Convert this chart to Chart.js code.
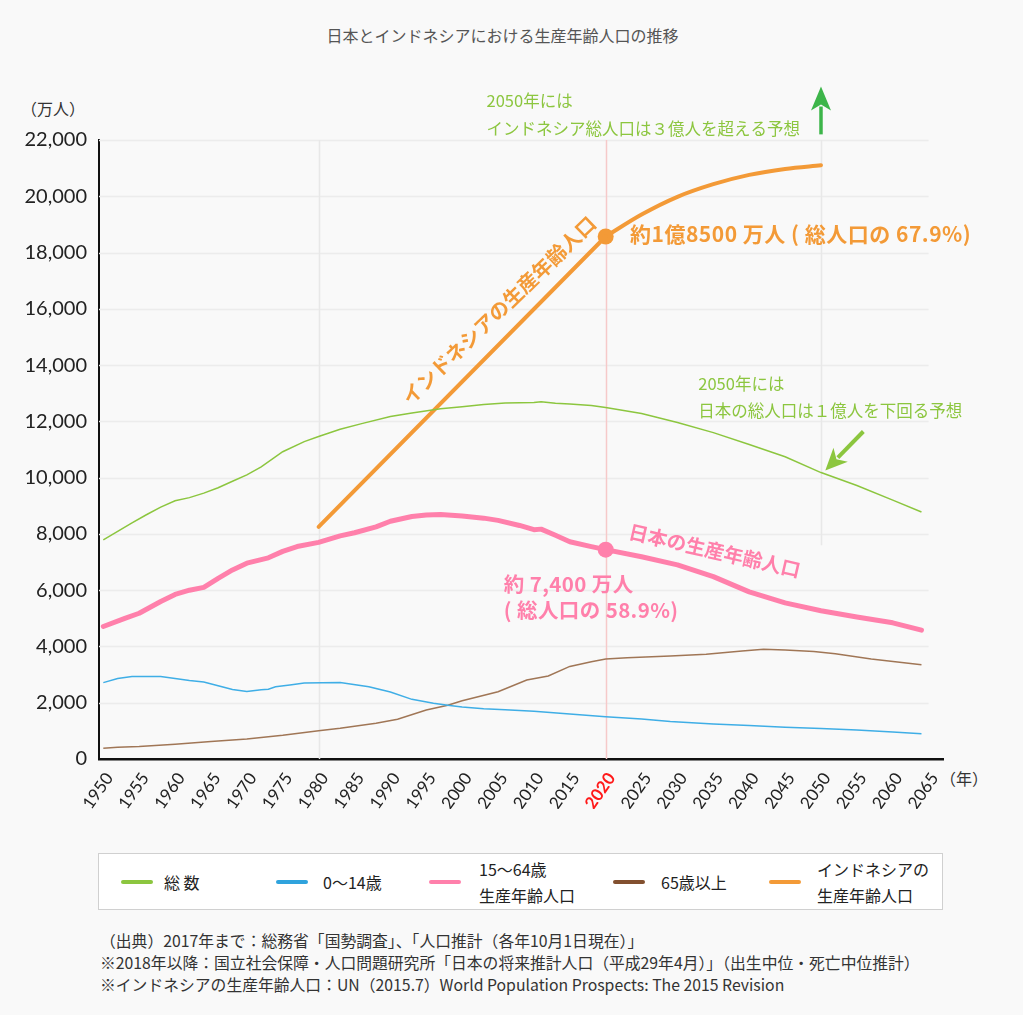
<!DOCTYPE html>
<html><head><meta charset="utf-8">
<script src="https://cdn.jsdelivr.net/npm/chart.js@4.4.1/dist/chart.umd.min.js"></script>
<style>
html,body{margin:0;padding:0;background:#f9f9f9;width:1023px;height:1015px;overflow:hidden;font-family:"Noto Sans CJK JP",sans-serif;}
#wrap{position:absolute;left:0;top:0;width:1023px;height:830px;}
#title{position:absolute;left:0;width:1005px;top:23px;text-align:center;font-size:16px;color:#555;line-height:24px}
#yunit{position:absolute;left:21px;top:96px;font-size:16px;color:#333;line-height:24px}
#xunit{position:absolute;left:940px;top:766px;font-size:16px;color:#333;line-height:24px}
#legend{position:absolute;left:98px;top:853px;width:843px;height:55px;background:#fff;border:1px solid #d0d0d0;}
.sw{position:absolute;top:26px;width:32px;height:4px;border-radius:2px}
.lt{position:absolute;font-size:16px;color:#222;line-height:26px;white-space:nowrap}
#notes{position:absolute;left:100px;top:930px;font-size:15.8px;color:#333;line-height:22px;white-space:nowrap}
</style></head>
<body>
<div id="title">日本とインドネシアにおける生産年齢人口の推移</div>
<div id="yunit">（万人）</div>
<div id="xunit">（年）</div>
<div id="wrap"><canvas id="c"></canvas></div>
<div id="legend"></div>
<div id="notes">
<div>（出典）2017年まで：総務省「国勢調査」、「人口推計（各年10月1日現在）」</div>
<div>※2018年以降：国立社会保障・人口問題研究所「日本の将来推計人口（平成29年4月）」（出生中位・死亡中位推計）</div>
<div>※インドネシアの生産年齢人口：UN（2015.7）World Population Prospects: The 2015 Revision</div>
</div>
<script>
// ---- data ----
const tickYears = [1950,1955,1960,1965,1970,1975,1980,1985,1990,1995,2000,2005,2010,2015,2020,2025,2030,2035,2040,2045,2050,2055,2060,2065];
const yTicks = [0,2000,4000,6000,8000,10000,12000,14000,16000,18000,20000,22000];

const totalYears  = [1950,1952,1954,1956,1958,1960,1962,1964,1966,1968,1970,1972,1975,1978,1980,1983,1986,1990,1993,1997,2000,2003,2006,2008,2010,2011,2013,2015,2018,2020,2025,2030,2035,2040,2045,2050,2055,2060,2064];
const totalValues = [7790,8090,8390,8680,8950,9180,9290,9450,9640,9870,10100,10380,10920,11280,11460,11720,11920,12170,12300,12450,12520,12600,12650,12660,12670,12700,12640,12620,12560,12490,12280,11960,11600,11180,10740,10180,9720,9200,8780];

const childYears  = [1950,1952,1954,1958,1960,1962,1964,1966,1968,1970,1972,1973,1974,1976,1978,1983,1987,1990,1993,1996,1998,2000,2003,2006,2010,2015,2020,2025,2029,2035,2040,2045,2050,2055,2060,2064];
const childValues = [2715,2860,2930,2930,2860,2790,2740,2600,2470,2400,2460,2480,2570,2630,2700,2715,2570,2380,2120,1980,1910,1850,1790,1750,1700,1600,1505,1420,1330,1240,1190,1130,1080,1030,960,900];

const workYears  = [1950,1953,1955,1958,1960,1962,1964,1966,1968,1970,1973,1975,1977,1980,1983,1985,1988,1990,1993,1995,1997,2000,2003,2005,2008,2010,2011,2013,2015,2018,2020,2025,2030,2035,2040,2045,2050,2055,2060,2064];
const workValues = [4710,5000,5180,5600,5850,6000,6100,6420,6720,6960,7150,7380,7550,7700,7930,8040,8250,8450,8620,8670,8690,8640,8560,8480,8300,8150,8170,7950,7720,7550,7440,7190,6900,6480,5940,5550,5270,5050,4840,4580];

const elderYears  = [1950,1952,1955,1960,1965,1970,1975,1980,1983,1988,1991,1995,1998,2000,2005,2009,2012,2015,2018,2020,2023,2029,2034,2039,2042,2045,2049,2052,2057,2064];
const elderValues = [380,420,440,520,620,710,840,1000,1090,1270,1410,1740,1910,2070,2390,2810,2950,3290,3460,3550,3600,3660,3720,3840,3900,3870,3820,3740,3550,3350];

const indoYears  = [1980,2020,2025,2030,2035,2040,2045,2050];
const indoValues = [8250,18570,19350,19980,20430,20760,20970,21100];

const highlightYear = 2020;

// ---- chart ----
const pts = (xs, ys) => xs.map((x, i) => ({x, y: ys[i]}));
const C = {green:'#8cc63f', blue:'#3faee6', pink:'#ff80ab', brown:'#8b5a36', orange:'#f39a37'};
const CJK = '"Noto Sans CJK JP", sans-serif';
const indoPts = pts(indoYears, indoValues);

const legendItems = [
  {c:C.green, line:22, text:'総 数', tx:65},
  {c:'#2fa3dd', line:177, text:'0〜14歳', tx:224},
  {c:C.pink, line:330, text:'15〜64歳<br>生産年齢人口', tx:380},
  {c:'#82502f', line:514, text:'65歳以上', tx:562},
  {c:C.orange, line:670, text:'インドネシアの<br>生産年齢人口', tx:718}
];
const lg = document.getElementById('legend');
legendItems.forEach(it => {
  const s = document.createElement('div'); s.className='sw'; s.style.left=it.line+'px'; s.style.background=it.c; lg.appendChild(s);
  const t = document.createElement('div'); t.className='lt'; t.style.left=it.tx+'px'; t.innerHTML=it.text;
  t.style.top = it.text.includes('<br>') ? '2px' : '15px';
  lg.appendChild(t);
});

const gridPlugin = {
  id:'grid',
  beforeDatasetsDraw(chart){
    const {ctx, chartArea:a, scales:{x, y}} = chart;
    ctx.save();
    ctx.lineWidth = 1.5;
    ctx.strokeStyle = '#ececec';
    yTicks.slice(1).forEach(v => {
      const py = Math.round(y.getPixelForValue(v)) + 0.5;
      ctx.beginPath(); ctx.moveTo(a.left, py); ctx.lineTo(x.getPixelForValue(2065), py); ctx.stroke();
    });
    const vline = (yr, col, toVal) => {
      const px = Math.round(x.getPixelForValue(yr)) + 0.5;
      ctx.strokeStyle = col; ctx.beginPath(); ctx.moveTo(px, a.top);
      ctx.lineTo(px, toVal == null ? a.bottom : y.getPixelForValue(toVal)); ctx.stroke();
    };
    vline(1980, '#e8e8e8');
    vline(2050, '#e8e8e8', 7600);
    vline(2020, '#f6c9c9');
    ctx.restore();
  }
};

function arrow(ctx, x1, y1, x2, y2, col, w, hl, hw){
  const ang = Math.atan2(y2 - y1, x2 - x1);
  const bx = x2 - hl*Math.cos(ang), by = y2 - hl*Math.sin(ang);
  ctx.strokeStyle = col; ctx.fillStyle = col; ctx.lineWidth = w;
  ctx.beginPath(); ctx.moveTo(x1, y1); ctx.lineTo(bx + 4*Math.cos(ang), by + 4*Math.sin(ang)); ctx.stroke();
  ctx.beginPath(); ctx.moveTo(x2, y2);
  ctx.lineTo(bx + hw*Math.sin(ang), by - hw*Math.cos(ang));
  ctx.lineTo(x2 - (hl-6)*Math.cos(ang), y2 - (hl-6)*Math.sin(ang));
  ctx.lineTo(bx - hw*Math.sin(ang), by + hw*Math.cos(ang));
  ctx.closePath(); ctx.fill();
}

const annoPlugin = {
  id:'anno',
  afterDatasetsDraw(chart){
    const {ctx, scales:{x, y}} = chart;
    const X = v => x.getPixelForValue(v), Y = v => y.getPixelForValue(v);
    ctx.save();
    ctx.textBaseline = 'middle';
    // green notes
    ctx.fillStyle = C.green; ctx.font = '16.5px ' + CJK; ctx.textAlign = 'left';
    ctx.fillText('2050年には', X(2003.4), Y(23400));
    ctx.fillText('インドネシア総人口は３億人を超える予想', X(2003.4), Y(22400));
    ctx.fillText('2050年には', X(2032.9), Y(13340));
    ctx.fillText('日本の総人口は１億人を下回る予想', X(2032.9), Y(12390));
    arrow(ctx, X(2050), Y(22200), X(2050), Y(23900), '#3db54a', 3.5, 24, 10);
    arrow(ctx, X(2055.9), Y(11640), X(2050.6), Y(10250), C.green, 4, 22, 10);
    // orange labels
    ctx.fillStyle = C.orange; ctx.font = 'bold 21px ' + CJK;
    ctx.letterSpacing = '0.5px';
    ctx.fillText('約1億8500 万人 ( 総人口の 67.9%)', X(2023.4), Y(18650));
    ctx.letterSpacing = '0px';
    ctx.save();
    ctx.translate(X(2005.1), Y(15950)); ctx.rotate(-44 * Math.PI/180);
    ctx.textAlign = 'center'; ctx.font = 'bold 20px ' + CJK;
    ctx.fillText('インドネシアの生産年齢人口', 0, 0);
    ctx.restore();
    // pink labels
    ctx.fillStyle = C.pink; ctx.font = 'bold 20.5px ' + CJK;
    ctx.letterSpacing = '0.4px';
    ctx.fillText('約 7,400 万人', X(2005.8), Y(6210));
    ctx.fillText('( 総人口の 58.9%)', X(2005.8), Y(5290));
    ctx.letterSpacing = '0px';
    ctx.font = 'bold 19.5px ' + CJK;
    ctx.save();
    ctx.translate(X(2035.2), Y(7400)); ctx.rotate(13 * Math.PI/180);
    ctx.textAlign = 'center';
    ctx.fillText('日本の生産年齢人口', 0, 0);
    ctx.restore();
    ctx.restore();
  }
};

const dotR = ctx => (ctx.raw && ctx.raw.x === highlightYear) ? 8 : 0;

new Chart(document.getElementById('c'), {
  type:'line',
  data:{
    datasets:[
      {label:'総数', data:pts(totalYears,totalValues), borderColor:C.green, borderWidth:1.5, pointRadius:0},
      {label:'0〜14歳', data:pts(childYears,childValues), borderColor:C.blue, borderWidth:1.5, pointRadius:0},
      {label:'65歳以上', data:pts(elderYears,elderValues), borderColor:'#a07656', borderWidth:1.5, pointRadius:0},
      {label:'15〜64歳 生産年齢人口', data:pts(workYears,workValues), borderColor:C.pink, backgroundColor:C.pink, borderWidth:5, pointRadius:dotR, pointBorderWidth:0, borderJoinStyle:'round', borderCapStyle:'round'},
      // Indonesia series: measured part (straight) and projection (smooth curve), same arrays
      {label:'インドネシアの生産年齢人口', data:indoPts.filter(p => p.x <= highlightYear), borderColor:C.orange, borderWidth:4, pointRadius:0, tension:0, borderCapStyle:'round'},
      {label:'インドネシアの生産年齢人口（推計）', data:indoPts.filter(p => p.x >= highlightYear), borderColor:C.orange, backgroundColor:C.orange, borderWidth:4, pointRadius:dotR, pointBorderWidth:0, cubicInterpolationMode:'monotone', borderCapStyle:'round'}
    ]
  },
  options:{
    responsive:true, maintainAspectRatio:false, animation:false,
    layout:{padding:{left:0, right:80, top:140, bottom:21}},
    plugins:{legend:{display:false}, tooltip:{enabled:false}},
    scales:{
      x:{type:'linear', min:1949.4, max:2067,
        afterBuildTicks: s => { s.ticks = tickYears.map(v => ({value:v})); },
        afterFit: s => { s.height = 50; },
        grid:{display:false, drawTicks:false},
        border:{display:true, color:'#111', width:2.5},
        ticks:{autoSkip:false, maxRotation:55, minRotation:55, padding:10, labelOffset:6,
          color: c => c.tick && c.tick.value === highlightYear ? '#ff1a1a' : '#222',
          font: c => ({family:'Lato, sans-serif', size:17, weight: (c.tick && c.tick.value === highlightYear) ? 'bold' : 'normal'}),
          callback: v => String(v)}
      },
      y:{min:0, max:22000,
        afterBuildTicks: s => { s.ticks = yTicks.map(v => ({value:v})); },
        afterFit: s => { s.width = 99; },
        grid:{display:false, drawTicks:false},
        border:{display:true, color:'#111', width:2},
        ticks:{padding:12, color:'#222', font:{family:'Lato, sans-serif', size:20},
          callback: v => v.toLocaleString('en-US')}
      }
    }
  },
  plugins:[gridPlugin, annoPlugin]
});
</script>
</body></html>
